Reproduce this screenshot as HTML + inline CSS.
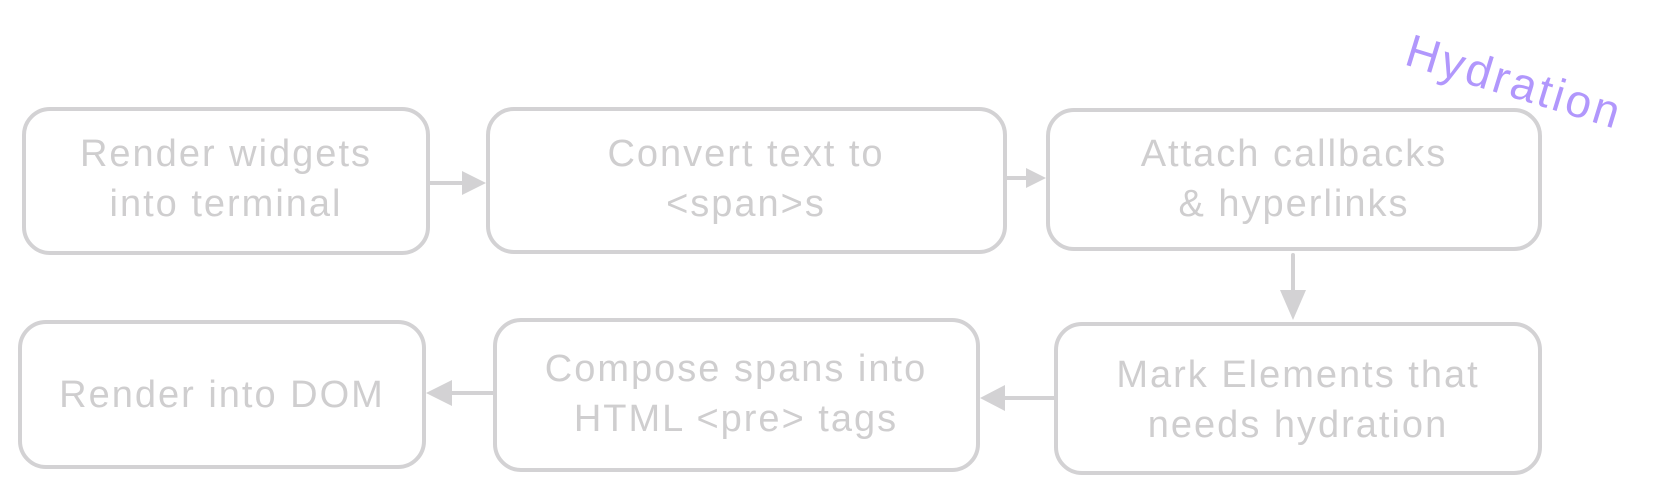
<!DOCTYPE html>
<html><head><meta charset="utf-8"><style>
html,body{margin:0;padding:0;background:#fff;}
svg{display:block;}
text{font-family:"Liberation Sans",sans-serif;}
</style></head><body>
<svg width="1670" height="492" viewBox="0 0 1670 492" xmlns="http://www.w3.org/2000/svg">
<g fill="none" stroke="#d3d2d4" stroke-width="4" stroke-linecap="round">
<rect x="24" y="109" width="404" height="144" rx="26"/>
<rect x="488" y="109" width="517" height="143" rx="26"/>
<rect x="1048" y="110" width="492" height="139" rx="26"/>
<rect x="20" y="322" width="404" height="145" rx="26"/>
<rect x="495" y="320" width="483" height="150" rx="26"/>
<rect x="1056" y="324" width="484" height="149" rx="26"/>
<line x1="430" y1="183" x2="470" y2="183"/>
<line x1="1007" y1="178" x2="1030" y2="178"/>
<line x1="1293" y1="255" x2="1293" y2="295"/>
<line x1="1054" y1="398" x2="1000" y2="398"/>
<line x1="493" y1="393" x2="445" y2="393"/>
</g>
<g fill="#d3d2d4">
<polygon points="486,183 462,171 462,195"/>
<polygon points="1046,178 1026,168 1026,188"/>
<polygon points="1293,320 1280,290 1306,290"/>
<polygon points="980,398 1005,385 1005,411"/>
<polygon points="426,393 452,380 452,406"/>
</g>
<g fill="#cfcecf" font-size="38" text-anchor="middle" letter-spacing="2">
<text x="226" y="166">Render widgets</text>
<text x="226" y="216">into terminal</text>
<text x="746" y="166">Convert text to</text>
<text x="746" y="216">&lt;span&gt;s</text>
<text x="1294" y="166">Attach callbacks</text>
<text x="1294" y="216">&amp; hyperlinks</text>
<text x="222" y="407">Render into DOM</text>
<text x="736" y="381">Compose spans into</text>
<text x="736" y="431">HTML &lt;pre&gt; tags</text>
<text x="1298" y="387">Mark Elements that</text>
<text x="1298" y="437">needs hydration</text>
</g>
<text x="1403" y="64" font-size="46" fill="#b197fc" letter-spacing="3" transform="rotate(17 1403 64)">Hydration</text>
</svg>
</body></html>
